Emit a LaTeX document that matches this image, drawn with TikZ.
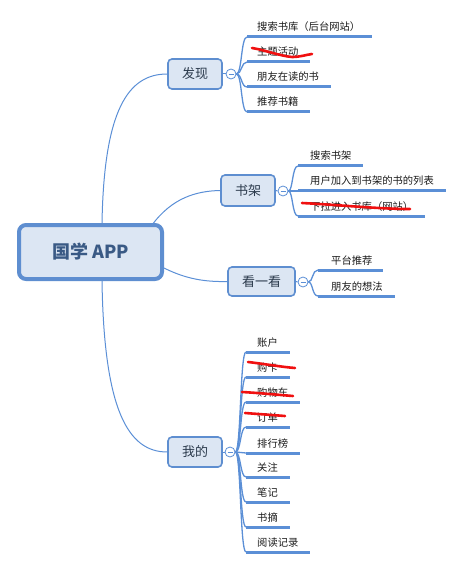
\documentclass[tikz,border=0pt]{standalone}
\usepackage{fontspec}
\newfontfamily\cjk{Noto Sans CJK SC}
\definecolor{lineblue}{HTML}{5B8FD6}
\definecolor{boxfill}{HTML}{DCE6F3}
\definecolor{boxedge}{HTML}{5E8ED0}
\definecolor{roottext}{HTML}{3A5A85}
\definecolor{maintext}{HTML}{2B3A4C}
\definecolor{leaftext}{HTML}{1A1A1A}
\definecolor{scribble}{HTML}{F01010}
\begin{document}
\begin{tikzpicture}[x=1pt,y=-1pt,
  rootbox/.style={draw=boxedge, fill=boxfill, line width=4pt, rounded corners=7pt,
    minimum width=143pt, minimum height=54pt, inner sep=0pt,
    font=\cjk\bfseries\fontsize{18}{20}\selectfont, text=roottext},
  topicbox/.style={draw=boxedge, fill=boxfill, line width=1.6pt, rounded corners=4pt,
    minimum height=30pt, inner sep=0pt,
    font=\cjk\fontsize{13}{15}\selectfont, text=maintext},
  fold/.style={circle, draw=lineblue, fill=white, line width=0.8pt,
    minimum size=10pt, inner sep=0pt,
    path picture={\draw[lineblue, line width=0.7pt]
      ([xshift=-2.5pt]path picture bounding box.center) -- ([xshift=2.5pt]path picture bounding box.center);}},
  leaflabel/.style={anchor=base west, inner sep=0pt,
    font=\cjk\fontsize{10.3}{12}\selectfont, text=leaftext},
  underline/.style={draw=lineblue, line width=3pt},
  link/.style={draw=lineblue, line width=1pt},
  twig/.style={draw=lineblue, line width=1.3pt},
  strike/.style={draw=scribble, line width=2.6pt, line cap=round, line join=round}
]
\useasboundingbox (0,0) rectangle (463,569);

% central topic
\node[rootbox] (root) at (90.5,252) {国学 APP};

% main topics
\node[topicbox, minimum width=54pt] (faxian) at (195,74) {发现};
\node[topicbox, minimum width=54pt, minimum height=31pt] (shujia) at (248,190.5) {书架};
\node[topicbox, minimum width=67pt, minimum height=29pt] (kan) at (261.5,281.5) {看一看};
\node[topicbox, minimum width=54pt] (wode) at (195,452) {我的};

% fold markers
\node[fold] (cf) at (231,74) {};
\node[fold] (cs) at (283,191) {};
\node[fold] (ck) at (303,282) {};
\node[fold] (cw) at (230,452) {};

\draw[link] (faxian.east) -- (cf.west);
\draw[link] (shujia.east) -- (cs.west);
\draw[link] (kan.east) -- (ck.west);
\draw[link] (wode.east) -- (cw.west);

% links from the central topic
\coordinate (rf) at (102,223);
\coordinate (rs) at (152,225);
\coordinate (rk) at (164,268);
\coordinate (rw) at (102,281);
\draw[link] (rf) .. controls (104,110) and (128,74) .. (faxian.west);
\draw[link] (rs) .. controls (172,198) and (196,191) .. (shujia.west);
\draw[link] (rk) .. controls (186,279) and (205,282) .. (kan.west);
\draw[link] (rw) .. controls (104,410) and (128,452) .. (wode.west);

% subtopics: line y / line length / label / name
\foreach \y/\w/\t/\n in {37/125/搜索书库（后台网站）/f1, 62/63/主题活动/f2,
    87/84/朋友在读的书/f3, 112/63/推荐书籍/f4}{
  \coordinate (\n) at (247,\y);
  \draw[underline] (\n) -- ++(\w,0);
  \node[leaflabel] (\n t) at (257,\y-6) {\t};
  \draw[twig] (cf.east) .. controls (242,74) and (241,\y) .. (\n);
}
\foreach \y/\w/\t/\n in {166/65/搜索书架/s1, 191/148/用户加入到书架的书的列表/s2,
    216/127/下拉进入书库（网站）/s3}{
  \coordinate (\n) at (298,\y);
  \draw[underline] (\n) -- ++(\w,0);
  \node[leaflabel] (\n t) at (310,\y-6) {\t};
  \draw[twig] (cs.east) .. controls (293,191) and (292,\y) .. (\n);
}
\foreach \y/\w/\t/\n in {270/65/平台推荐/k1, 296/77/朋友的想法/k2}{
  \coordinate (\n) at (318,\y);
  \draw[underline] (\n) -- ++(\w,0);
  \node[leaflabel] (\n t) at (331,\y-6) {\t};
  \draw[twig] (ck.east) .. controls (313,282) and (312,\y) .. (\n);
}
\foreach \y/\w/\t/\n in {352/44/账户/w1, 377/44/购卡/w2, 402/54/购物车/w3,
    427/44/订单/w4, 453/54/排行榜/w5, 477/44/关注/w6, 502/44/笔记/w7,
    527/44/书摘/w8, 552/64/阅读记录/w9}{
  \coordinate (\n) at (246,\y);
  \draw[underline] (\n) -- ++(\w,0);
  \node[leaflabel] (\n t) at (257,\y-6) {\t};
  \draw[twig] (cw.east) .. controls (241,452) and (240,\y) .. (\n);
}

% red strike-throughs
\draw[strike] (252,48) .. controls (265,50) and (280,56) .. (292,57)
  .. controls (300,57) and (305,55) .. (312,54);
\draw[strike] (302,203) .. controls (340,205) and (380,209) .. (410,209);
\draw[strike] (248,362) .. controls (265,364) and (282,367) .. (295,368);
\draw[strike] (242,392) .. controls (260,393) and (280,395) .. (293,396);
\draw[strike] (245,413) .. controls (258,414) and (272,415) .. (285,416);
\end{tikzpicture}
\end{document}
